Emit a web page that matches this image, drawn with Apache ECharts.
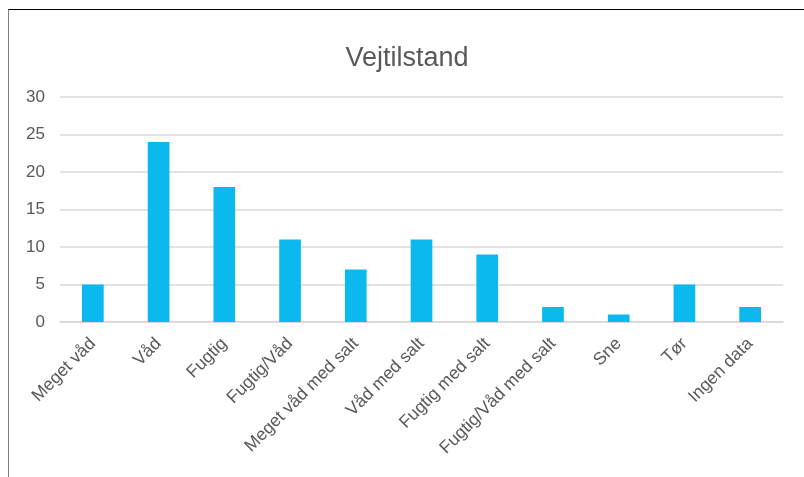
<!DOCTYPE html>
<html>
<head>
<meta charset="utf-8">
<script src="https://cdn.jsdelivr.net/npm/echarts@6/dist/echarts.min.js"></script>
<style>
html,body{margin:0;padding:0;background:#fff;width:804px;height:477px;overflow:hidden;}
#frame{position:absolute;left:8px;top:9px;width:900px;height:600px;border-top:1px solid #000;border-left:1px solid #808080;}
#chart{position:absolute;left:0;top:0;width:804px;height:477px;}
</style>
</head>
<body>
<div id="frame"></div>
<div id="chart"></div>
<script>
const titleText = 'Vejtilstand';
const categories = ['Meget våd','Våd','Fugtig','Fugtig/Våd','Meget våd med salt','Våd med salt','Fugtig med salt','Fugtig/Våd med salt','Sne','Tør','Ingen data'];
const values = [5,24,18,11,7,11,9,2,1,5,2];
const yMin = 0, yMax = 30, yStep = 5;

const chart = echarts.init(document.getElementById('chart'), null, {renderer:'canvas'});
chart.setOption({
  animation:false,
  backgroundColor:'transparent',
  title:{
    text:titleText,
    left:402,
    textAlign:'center',
    top:40,
    textStyle:{fontFamily:'Liberation Sans, Arial, sans-serif',fontSize:27,fontWeight:'normal',color:'#595959'}
  },
  grid:{left:60,right:21,top:97,bottom:155,containLabel:false},
  xAxis:{
    type:'category',
    data:categories,
    axisTick:{show:false},
    axisLine:{show:true,lineStyle:{color:'#D9D9D9',width:1.5}},
    axisLabel:{
      interval:0,
      rotate:45,
      margin:19,
      color:'#595959',
      fontFamily:'Liberation Sans, Arial, sans-serif',
      fontSize:17.5
    }
  },
  yAxis:{
    type:'value',
    min:yMin,max:yMax,interval:yStep,
    axisLine:{show:false},
    axisTick:{show:false},
    splitLine:{lineStyle:{color:'#D9D9D9',width:1.5}},
    axisLabel:{margin:15,color:'#595959',fontFamily:'Liberation Sans, Arial, sans-serif',fontSize:17}
  },
  series:[{
    type:'bar',
    data:values,
    barWidth:'33%',
    itemStyle:{color:'#0CB9EE'}
  }]
});
</script>
</body>
</html>
